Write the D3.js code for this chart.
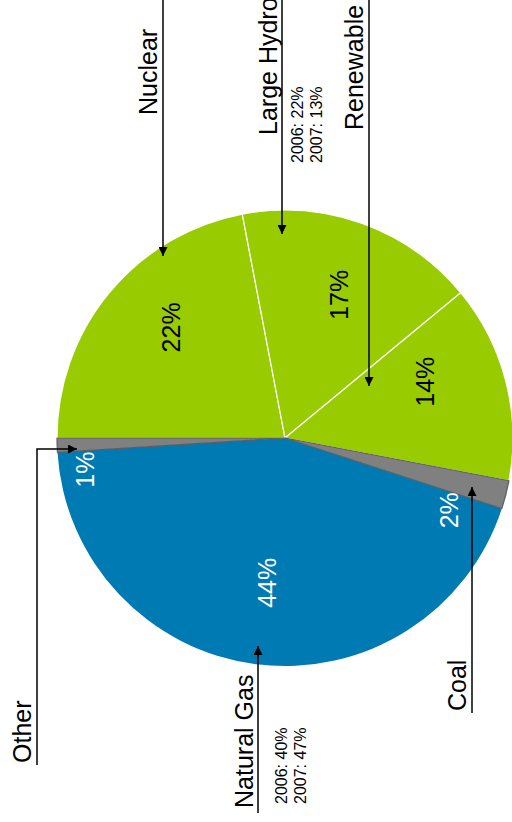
<!DOCTYPE html>
<html>
<head>
<meta charset="utf-8">
<script src="https://cdn.jsdelivr.net/npm/d3@7"></script>
<style>
   html, body { margin: 0; padding: 0; background: #fff; }
   svg text { font-family: "Liberation Sans", Arial, sans-serif; }
</style>
</head>
<body>
<svg class="piechart" width="512" height="822"></svg>
<script>
// DATA
var sources = ['Nuclear', 'Large Hydro', 'Renewable', 'Coal', 'Natural Gas', 'Other'];
var shares = [22, 17, 14, 2, 44, 1];
var groups = ['green', 'green', 'green', 'grey', 'blue', 'grey'];
var yearShares = {
   'Large Hydro': ['2006: 22%', '2007: 13%'],
   'Natural Gas': ['2006: 40%', '2007: 47%']
};

(function drawPie() {
   var svg = d3.select('svg.piechart');

   var center = {x: 285, y: 438}, radius = 228;

   var colorScale = d3.scaleOrdinal()
      .domain(['green', 'blue', 'grey'])
      .range(['#99cc00', '#007ab3', '#808080']);
   var strokeScale = d3.scaleOrdinal()
      .domain(['green', 'blue', 'grey'])
      .range(['#ffffff', 'none', '#5e5e5e']);
   var textScale = d3.scaleOrdinal()
      .domain(['green', 'blue', 'grey'])
      .range(['#000', '#fff', '#fff']);

   var rows = sources.map(function (name, i) {
      return {name: name, value: shares[i], group: groups[i]};
   });

   // chart is turned a quarter turn, so the first slice starts at 9 o'clock
   var pie = d3.pie()
      .sort(null)
      .value(function (d) { return d.value; })
      .startAngle(-Math.PI / 2)
      .endAngle(Math.PI * 1.5);

   var arc = d3.arc().innerRadius(0).outerRadius(radius);
   var labelArc = d3.arc().innerRadius(150).outerRadius(150);

   var arcs = pie(rows);

   var g = svg.append('g')
      .attr('transform', 'translate(' + center.x + ',' + center.y + ')');

   // grey slices last so their outline sits on top
   var drawOrder = arcs.slice().sort(function (a, b) {
      return (a.data.group === 'grey') - (b.data.group === 'grey');
   });

   g.selectAll('path.slice')
      .data(drawOrder)
      .enter().append('path')
      .attr('class', 'slice')
      .attr('d', arc)
      .attr('fill', function (d) { return colorScale(d.data.group); })
      .attr('stroke', function (d) { return strokeScale(d.data.group); })
      .attr('stroke-width', 1.2)
      .attr('stroke-linejoin', 'round');

   // hand placement of percentage labels relative to centroid
   var nudge = {
      'Nuclear': [2, -15], 'Large Hydro': [3, -2], 'Renewable': [-5, -19],
      'Coal': [19, 35], 'Natural Gas': [1, -4], 'Other': [-50, 27]
   };

   g.selectAll('text.pct')
      .data(arcs)
      .enter().append('text')
      .attr('class', 'pct')
      .attr('transform', function (d) {
         var c = labelArc.centroid(d), n = nudge[d.data.name];
         return 'translate(' + (c[0] + n[0]) + ',' + (c[1] + n[1]) + ') rotate(-90)';
      })
      .attr('text-anchor', 'middle')
      .attr('dy', '0.36em')
      .attr('font-size', 25)
      .attr('fill', function (d) { return textScale(d.data.group); })
      .text(function (d) { return d.data.value + '%'; });

   // callouts (screen coordinates)
   svg.append('defs').append('marker')
      .attr('id', 'arrow')
      .attr('viewBox', '0 0 10 10')
      .attr('refX', 10)
      .attr('refY', 5)
      .attr('markerWidth', 11)
      .attr('markerHeight', 9)
      .attr('markerUnits', 'userSpaceOnUse')
      .attr('orient', 'auto')
      .append('path')
      .attr('d', 'M0,0L10,5L0,10Z')
      .attr('fill', '#000');

   var callouts = [
      {name: 'Nuclear', tx: 157, ty: 115, line: [[163, 0], [163, 256]]},
      {name: 'Large Hydro', tx: 277, ty: 135, sub: [303, 322], sy: 163, line: [[282, 0], [282, 234]]},
      {name: 'Renewable', tx: 363, ty: 130, line: [[369, 0], [369, 386]]},
      {name: 'Natural Gas', tx: 253, ty: 808, sub: [287, 306], sy: 804, line: [[258, 813], [258, 646]]},
      {name: 'Coal', tx: 466, ty: 711, line: [[472, 713], [472, 487]]},
      {name: 'Other', tx: 31, ty: 763, line: [[37, 765], [37, 449], [77, 449]]}
   ];

   var co = svg.append('g').attr('class', 'callouts');

   co.selectAll('path.leader')
      .data(callouts)
      .enter().append('path')
      .attr('class', 'leader')
      .attr('d', function (d) { return d3.line()(d.line); })
      .attr('fill', 'none')
      .attr('stroke', '#000')
      .attr('stroke-width', 1.5)
      .attr('marker-end', 'url(#arrow)');

   co.selectAll('text.name')
      .data(callouts)
      .enter().append('text')
      .attr('class', 'name')
      .attr('transform', function (d) {
         return 'translate(' + d.tx + ',' + d.ty + ') rotate(-90)';
      })
      .attr('font-size', 25)
      .attr('fill', '#000')
      .text(function (d) { return d.name; });

   callouts.filter(function (d) { return yearShares[d.name]; }).forEach(function (d) {
      yearShares[d.name].forEach(function (line, i) {
         co.append('text')
            .attr('class', 'sub')
            .attr('transform', 'translate(' + d.sub[i] + ',' + d.sy + ') rotate(-90)')
            .attr('font-size', 16)
            .attr('fill', '#000')
            .text(line);
      });
   });
})();
</script>
</body>
</html>
